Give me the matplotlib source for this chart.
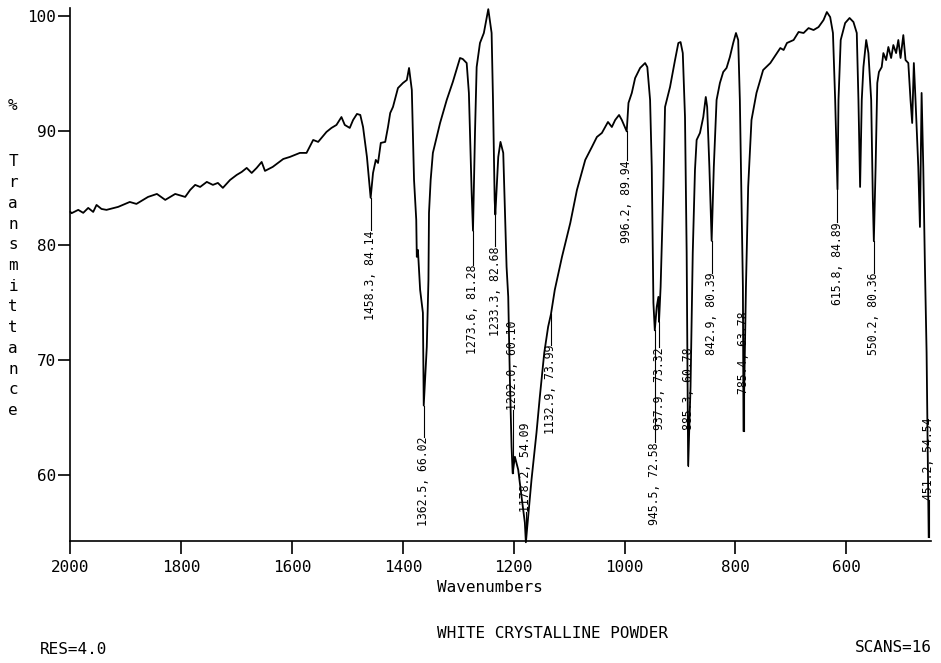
import matplotlib

matplotlib.use("Agg")
import matplotlib.pyplot as plt

# spectrum: wavenumber (cm-1) and % transmittance
WAVENUMBER = [
    2000, 1998, 1986, 1977, 1968, 1959, 1953, 1944, 1935, 1914, 1893, 1881,
    1860, 1844, 1829, 1811, 1793, 1784, 1775, 1766, 1754, 1743, 1734, 1725,
    1712, 1700, 1691, 1682, 1673, 1664, 1655, 1649, 1635, 1616, 1604, 1586,
    1574, 1562, 1553, 1538, 1529, 1520, 1511, 1505, 1496, 1490, 1483, 1477,
    1472, 1465, 1458.3, 1454, 1449, 1445, 1440, 1432, 1427, 1423, 1418, 1409,
    1400, 1393, 1389, 1384, 1380, 1376, 1375, 1373, 1369, 1364, 1362.5, 1357,
    1354, 1353, 1350, 1346, 1333, 1321, 1310, 1297, 1292, 1285, 1281, 1276,
    1273.6, 1270, 1267, 1261, 1254, 1246, 1240, 1237.5, 1234.5, 1233.3, 1228,
    1224, 1219, 1213, 1210, 1207, 1204, 1202.0, 1198, 1192, 1186, 1180,
    1178.2, 1168, 1159, 1153, 1145, 1138, 1132.9, 1126, 1113, 1098, 1086,
    1071, 1059, 1050, 1041, 1035, 1030, 1023, 1017, 1010, 1005, 996.2, 993,
    987, 981, 972, 963, 959, 954, 951, 948, 945.5, 942, 939, 937.9, 935, 930,
    927, 918, 909, 903, 899, 895, 891, 888, 885.3, 881, 877, 873, 870, 864,
    858, 853.5, 851, 847, 842.9, 839, 834, 828, 822, 816, 810, 804, 799, 795,
    792, 789, 786.5, 785.4, 781, 777, 771, 762, 750, 737, 725, 719, 713, 707,
    695, 686, 677, 668, 659, 650, 641, 635, 629, 624, 620, 615.8, 614, 610,
    602, 594, 587, 581, 578, 575, 572, 569, 564, 560, 555, 552, 550.2, 547,
    544, 541, 536, 533, 528, 524, 519, 515, 510, 506, 502, 497, 493, 488, 484,
    481, 478, 475, 470, 467, 464, 461, 458, 455, 453, 451.2,
]
TRANSMITTANCE = [
    82.91, 82.80, 83.09, 82.83, 83.26, 82.91, 83.52, 83.17, 83.09, 83.35, 83.78, 83.61,
    84.22, 84.48, 83.96, 84.48, 84.22, 84.83, 85.27, 85.09, 85.53, 85.27, 85.44, 85.01,
    85.70, 86.14, 86.40, 86.75, 86.31, 86.75, 87.27, 86.49, 86.84, 87.53, 87.71, 88.06,
    88.06, 89.19, 89.02, 89.89, 90.24, 90.50, 91.19, 90.50, 90.24, 90.93, 91.46, 91.37,
    90.32, 87.71, 84.14, 86.31, 87.45, 87.18, 88.93, 89.02, 90.32, 91.54, 92.07, 93.72,
    94.16, 94.42, 95.47, 93.55, 85.70, 82.22, 78.99, 79.60, 76.11, 74.11, 66.02, 71.14,
    76.98, 82.83, 85.70, 88.06, 90.67, 92.68, 94.25, 96.34, 96.25, 95.90, 93.29, 84.57,
    81.28, 89.80, 95.55, 97.65, 98.52, 100.6, 98.52, 92.68, 83.96, 82.68, 87.71,
    89.02, 88.06, 78.12, 75.50, 68.27, 62.43, 60.10, 61.55, 60.42, 58.07, 55.80,
    54.09, 59.55, 63.65, 66.78, 70.62, 72.89, 73.99, 76.11, 78.99, 81.95, 84.83,
    87.45, 88.58, 89.45, 89.80, 90.32, 90.76, 90.32, 90.93, 91.37, 90.93, 89.94, 92.42,
    93.29, 94.59, 95.47, 95.90, 95.55, 92.68, 86.84, 74.98, 72.58, 74.63, 75.50, 73.32, 76.37, 85.09,
    92.07, 93.81, 96.16, 97.65, 97.73, 96.77, 91.19, 79.34, 60.78, 67.66, 79.34, 86.57, 89.19, 89.80,
    91.19, 92.94, 92.07, 86.84, 80.39, 86.84, 92.68, 94.16, 95.12, 95.47, 96.43, 97.65, 98.52, 97.91,
    92.68, 83.96, 76.37, 63.78, 76.37, 85.09, 90.93, 93.29, 95.29, 95.90, 96.77, 97.21, 97.04, 97.65,
    97.91, 98.61, 98.52, 98.95, 98.78, 99.04, 99.65, 100.35, 99.91, 98.52, 92.68, 84.89, 92.68, 97.91,
    99.39, 99.83, 99.48, 98.52, 92.68, 85.09, 92.68, 95.55, 97.91, 96.77, 92.68, 83.96, 80.36, 86.84,
    94.16, 95.12, 95.55, 96.77, 96.16, 97.30, 96.34, 97.47, 96.77, 97.91, 96.34, 98.34, 96.16, 95.90, 92.68,
    90.67, 95.90, 92.68, 86.84, 81.60, 93.29, 86.84, 78.12, 70.62, 62.00, 54.54,
]

# picked peaks and their printed values
PEAK_WN = [1458.3, 1362.5, 1273.6, 1233.3, 1202.0, 1178.2, 1132.9, 996.2,
           945.5, 937.9, 885.3, 842.9, 785.4, 615.8, 550.2, 451.2]
PEAK_T = [84.14, 66.02, 81.28, 82.68, 60.10, 54.09, 73.99, 89.94,
          72.58, 73.32, 60.78, 80.39, 63.78, 84.89, 80.36, 54.54]

X_TICKS = [2000, 1800, 1600, 1400, 1200, 1000, 800, 600]
Y_TICKS = [60, 70, 80, 90, 100]

MONO = "DejaVu Sans Mono"


def draw(out_path="out.png"):
    # end of each label's leader line (%T); above the peak when it would not fit below
    label_end = [81.3, 63.3, 78.3, 79.9, 65.6, 56.7, 71.3, 87.4,
                 62.8, 71.1, 63.9, 77.6, 67.0, 82.0, 77.6, 57.8]

    fig = plt.figure(figsize=(9.41, 6.63), dpi=100)
    ax = fig.add_axes([0.0749, 0.1840, 0.9145, 0.8039])

    ax.plot(WAVENUMBER, TRANSMITTANCE, color="black", lw=1.3, clip_on=False)

    for wn, t, end in zip(PEAK_WN, PEAK_T, label_end):
        ax.plot([wn, wn], [t, end], color="black", lw=0.8)
        ax.text(wn, end, f"{wn:.1f}, {t:.2f}", rotation=90, ha="center",
                va="top" if end < t else "bottom", fontsize=8.3, family=MONO)

    ax.set_xlim(2000, 447)
    ax.set_ylim(54.2, 100.7)
    ax.set_xticks(X_TICKS)
    ax.set_xticklabels([str(v) for v in X_TICKS], family=MONO, fontsize=11.5)
    ax.set_yticks(Y_TICKS)
    ax.set_yticklabels([str(v) for v in Y_TICKS], family=MONO, fontsize=11.5)
    ax.tick_params(axis="both", direction="out", length=9, width=1.2)
    ax.tick_params(axis="x", pad=5)
    ax.tick_params(axis="y", pad=1.5)
    for side in ("top", "right"):
        ax.spines[side].set_visible(False)
    for side in ("left", "bottom"):
        ax.spines[side].set_linewidth(1.2)

    # stacked y label, one letter per line
    fig.text(13 / 941, 1 - 106 / 663, "%", ha="center", va="center",
             family=MONO, fontsize=11.5)
    for i, ch in enumerate("Transmittance"):
        fig.text(13 / 941, 1 - (162 + i * 20.7) / 663, ch, ha="center",
                 va="center", family=MONO, fontsize=11.5)

    fig.text(437 / 941, 1 - 587 / 663, "Wavenumbers", ha="left", va="center",
             family=MONO, fontsize=11.5)
    fig.text(437 / 941, 1 - 633 / 663, "WHITE CRYSTALLINE POWDER", ha="left",
             va="center", family=MONO, fontsize=11.5)
    fig.text(40 / 941, 1 - 650 / 663, "RES=4.0", ha="left", va="center",
             family=MONO, fontsize=11.5)
    fig.text(932 / 941, 1 - 648 / 663, "SCANS=16", ha="right", va="center",
             family=MONO, fontsize=11.5)

    fig.savefig(out_path, dpi=100)
    plt.close(fig)


if __name__ == "__main__":
    draw()
